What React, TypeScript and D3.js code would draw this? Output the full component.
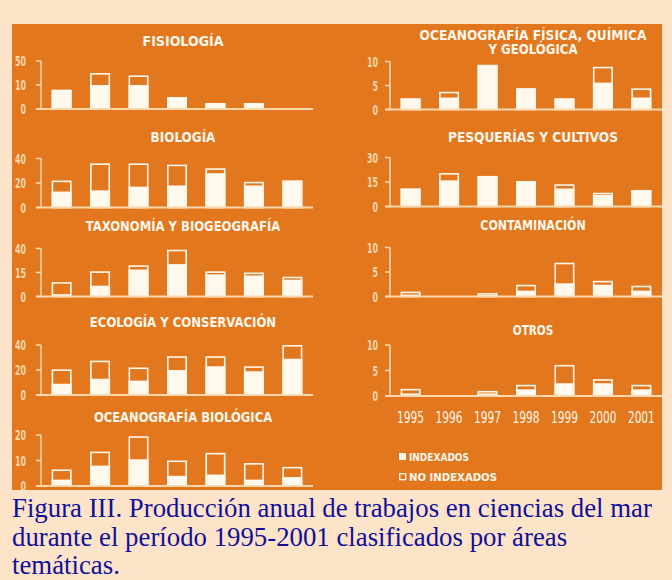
import React from 'react';
import * as d3 from 'd3';

// años del eje x (solo se rotulan bajo el último panel)
const years = ['1995', '1996', '1997', '1998', '1999', '2000', '2001'];

const titles = [
  ['FISIOLOGÍA'],
  ['BIOLOGÍA'],
  ['TAXONOMÍA Y BIOGEOGRAFÍA'],
  ['ECOLOGÍA Y CONSERVACIÓN'],
  ['OCEANOGRAFÍA BIOLÓGICA'],
  ['OCEANOGRAFÍA FÍSICA, QUÍMICA', 'Y GEOLÓGICA'],
  ['PESQUERÍAS Y CULTIVOS'],
  ['CONTAMINACIÓN'],
  ['OTROS'],
];

const yMax = [20, 40, 40, 40, 20, 10, 30, 10, 10];

const tickLabels = [
  ['0', '10', '50'],
  ['0', '20', '40'],
  ['0', '15', '40'],
  ['0', '20', '40'],
  ['0', '10', '20'],
  ['0', '5', '10'],
  ['0', '15', '30'],
  ['0', '5', '10'],
  ['0', '5', '10'],
];

const indexados = [
  [8, 10, 10, 5, 2.5, 2.5, 0],
  [13, 14, 17, 18, 28, 18, 22],
  [2, 9, 22.5, 27, 18.5, 17.5, 14],
  [9, 13, 11.5, 20, 23, 19, 29],
  [2.5, 8, 10.5, 4, 4.5, 2.5, 3.5],
  [2.3, 2.5, 9.3, 4.4, 2.3, 5.6, 2.5],
  [11, 16, 18.7, 15.6, 11, 7, 10],
  [0.4, 0, 0.3, 1.2, 2.7, 2.4, 1.2],
  [0.5, 0, 0.5, 1.3, 2.5, 2.5, 1.3],
];

const noIndexados = [
  [0, 5, 4, 0, 0, 0, 0],
  [9, 22, 19, 17, 4, 3, 0],
  [10, 12, 3.5, 12, 2.5, 2.5, 2.5],
  [11.5, 14.5, 10.5, 11, 8, 4, 11],
  [4, 5.5, 9, 6, 8.5, 6.5, 4],
  [0, 1.2, 0, 0, 0, 3.3, 1.9],
  [0, 4.5, 0, 0, 2.6, 1.4, 0],
  [0.6, 0, 0.4, 1.2, 4.2, 0.8, 1],
  [0.9, 0, 0.5, 0.9, 3.6, 0.8, 0.9],
];

const captionLines = [
  'Figura III. Producción anual de trabajos en ciencias del mar',
  'durante el período 1995-2001 clasificados por áreas',
  'temáticas.',
];

const ORANGE = '#e2771e';
const PEACH = '#fde3c8';
const CREAM = '#fff8ec';
const AXIS = '#fbd8ae';
const FONT = "'Liberation Sans Narrow', 'DejaVu Sans Condensed', 'Roboto', sans-serif";

const cols = [
  { axisX: 41, labelX: 26, titleX: 183 },
  { axisX: 390, labelX: 378, titleX: 533 },
];

const layout = [
  { col: 0, top: 61, base: 109, titleY: 46 },
  { col: 0, top: 158.5, base: 207.5, titleY: 141.5 },
  { col: 0, top: 248.5, base: 296.5, titleY: 231 },
  { col: 0, top: 345, base: 395, titleY: 326.5 },
  { col: 0, top: 435, base: 486, titleY: 421.5 },
  { col: 1, top: 61.5, base: 109.5, titleY: 39.5 },
  { col: 1, top: 157.5, base: 206.5, titleY: 141.5 },
  { col: 1, top: 247.5, base: 296.5, titleY: 230 },
  { col: 1, top: 345, base: 396, titleY: 335 },
];

const Panel = ({ i }: { i: number }) => {
  const l = layout[i];
  const c = cols[l.col];
  const x = d3.scaleBand().domain(years).range([c.axisX + 1, c.axisX + 271]).paddingInner(0.48).paddingOuter(0.25);
  const y = d3.scaleLinear().domain([0, yMax[i]]).range([l.base, l.top]);
  const ticks = [0, yMax[i] / 2, yMax[i]];
  const bw = x.bandwidth();

  return (
    <g>
      {titles[i].map((t, k) => (
        <text key={k} x={c.titleX} y={l.titleY + k * 14.5} textAnchor="middle" fill={CREAM}
          fontFamily={FONT} fontWeight="bold" fontSize={14}
          textLength={t.length * 8.1} lengthAdjust="spacingAndGlyphs">{t}</text>
      ))}
      {/* eje y */}
      <line x1={c.axisX} x2={c.axisX} y1={y(yMax[i])} y2={y(0)} stroke={AXIS} strokeWidth={1.5} />
      {ticks.map((tv, k) => (
        <g key={k}>
          <line x1={c.axisX - 5} x2={c.axisX} y1={y(tv)} y2={y(tv)} stroke={AXIS} strokeWidth={1.5} />
          <text x={c.labelX} y={y(tv)} dy="0.36em" textAnchor="end" fill={AXIS} fontFamily={FONT}
            fontWeight="bold" fontSize={14} textLength={tickLabels[i][k].length * 5.5}
            lengthAdjust="spacingAndGlyphs">{tickLabels[i][k]}</text>
        </g>
      ))}
      {years.map((yr, k) => {
        const ind = indexados[i][k];
        const tot = ind + noIndexados[i][k];
        if (tot <= 0) return null;
        const bx = x(yr)!;
        return (
          <g key={yr}>
            <rect x={bx + 0.8} y={y(tot) + 0.8} width={bw - 1.6} height={Math.max(0, y(0) - y(tot) - 0.8)}
              fill={ORANGE} stroke={CREAM} strokeWidth={1.6} />
            {ind > 0 && (
              <rect x={bx} y={y(ind)} width={bw} height={y(0) - y(ind)} fill={CREAM} />
            )}
          </g>
        );
      })}
      <line x1={c.axisX - 5} x2={c.axisX + 272} y1={y(0)} y2={y(0)} stroke={AXIS} strokeWidth={2} />
      {i === 8 && years.map((yr) => (
        <text key={yr} x={x(yr)! + bw / 2} y={423} textAnchor="middle" fill={CREAM} fontFamily={FONT}
          fontSize={15} textLength={27} lengthAdjust="spacingAndGlyphs">{yr}</text>
      ))}
    </g>
  );
};

const App = () => {
  return (
    <svg width={672} height={580} style={{ position: 'absolute', left: 0, top: 0 }}>
      <rect width={672} height={580} fill={PEACH} />
      <rect x={12} y={24} width={650} height={466} fill={ORANGE} />
      {layout.map((_, i) => <Panel key={i} i={i} />)}

      {/* leyenda */}
      <rect x={399} y={453} width={7} height={7} fill={CREAM} />
      <text x={409} y={460.5} fill={CREAM} fontFamily={FONT} fontWeight="bold" fontSize={10}
        textLength={60} lengthAdjust="spacingAndGlyphs">INDEXADOS</text>
      <rect x={399.7} y={473.7} width={6} height={6} fill="none" stroke={CREAM} strokeWidth={1.3} />
      <text x={409} y={481} fill={CREAM} fontFamily={FONT} fontWeight="bold" fontSize={10}
        textLength={88} lengthAdjust="spacingAndGlyphs">NO INDEXADOS</text>

      {captionLines.map((t, k) => (
        <text key={k} x={12} y={517 + k * 28.5} fill="#10109a" fontFamily="'Liberation Serif', 'Times New Roman', serif"
          fontSize={26.8}>{t}</text>
      ))}
    </svg>
  );
};

export default App;
